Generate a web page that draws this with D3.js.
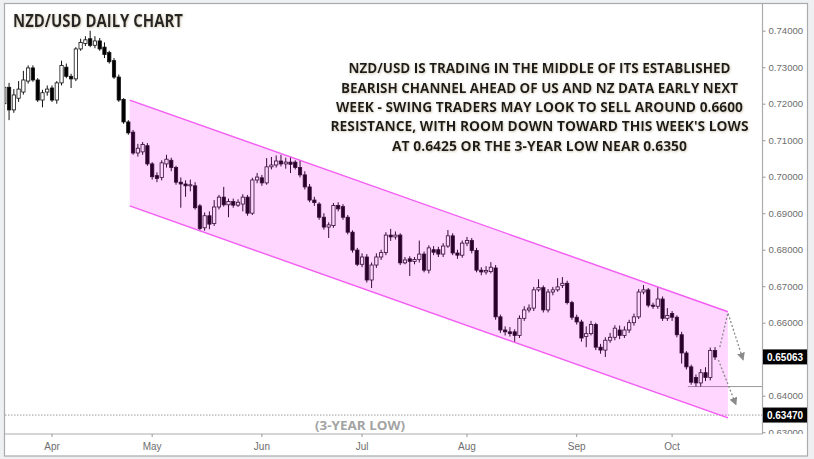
<!DOCTYPE html>
<html><head><meta charset="utf-8">
<script src="https://cdn.jsdelivr.net/npm/d3@7"></script>
<style>
html,body{margin:0;padding:0;background:#eef0f1;}
svg{display:block;}
</style></head><body>
<svg id="c" width="814" height="459"></svg>
<script>
// ---- DATA (NZD/USD daily) ----
const openP = [
.7200,.7245,.7183,.7215,.7232,.7262,.7298,.7265,.7210,.7232,
.7243,.7210,.7257,.7300,.7275,.7268,.7350,.7365,.7378,.7360,
.7372,.7355,.7340,.7318,.7273,.7212,.7150,.7122,.7065,.7068,
.7085,.7035,.7003,.6998,.7035,.7045,.7025,.6985,.6980,.6975,
.6975,.6920,.6860,.6893,.6872,.6917,.6944,.6923,.6932,.6922,
.6925,.6944,.6900,.6991,.6997,.6983,.7027,.7032,.7043,.7035,
.7040,.7040,.7025,.7005,.6972,.6936,.6925,.6889,.6862,.6866,
.6921,.6918,.6889,.6848,.6799,.6760,.6780,.6717,.6758,.6780,
.6792,.6840,.6835,.6840,.6764,.6775,.6768,.6773,.6788,.6744,
.6800,.6800,.6788,.6810,.6838,.6791,.6785,.6818,.6825,.6798,
.6744,.6739,.6740,.6750,.6616,.6580,.6575,.6575,.6565,.6612,
.6635,.6640,.6690,.6696,.6635,.6684,.6690,.6702,.6708,.6655,
.6615,.6602,.6562,.6570,.6595,.6533,.6525,.6552,.6560,.6580,
.6565,.6580,.6600,.6616,.6684,.6690,.6648,.6645,.6665,.6612,
.6625,.6615,.6567,.6517,.6479,.6450,.6435,.6463,.6450,.6524];
const highP = [
.7265,.7257,.7240,.7262,.7290,.7305,.7305,.7270,.7238,.7250,
.7250,.7262,.7318,.7310,.7282,.7355,.7378,.7385,.7400,.7385,
.7380,.7368,.7345,.7325,.7280,.7215,.7155,.7128,.7090,.7095,
.7092,.7040,.7012,.7045,.7060,.7052,.7030,.6998,.6990,.6992,
.6985,.6925,.6902,.6905,.6936,.6950,.6972,.6940,.6940,.6938,
.6952,.6950,.6997,.7010,.7005,.7051,.7054,.7058,.7060,.7052,
.7054,.7045,.7046,.7015,.6980,.6945,.6930,.6900,.6875,.6928,
.6930,.6925,.6895,.6853,.6805,.6790,.6788,.6765,.6790,.6800,
.6848,.6857,.6850,.6845,.6780,.6782,.6780,.6825,.6795,.6812,
.6810,.6808,.6818,.6854,.6845,.6800,.6825,.6835,.6832,.6805,
.6752,.6755,.6766,.6758,.6622,.6590,.6588,.6582,.6620,.6645,
.6650,.6698,.6719,.6702,.6692,.6698,.6722,.6725,.6715,.6660,
.6622,.6608,.6590,.6605,.6600,.6542,.6560,.6572,.6593,.6592,
.6590,.6608,.6625,.6692,.6703,.6695,.6655,.6698,.6672,.6640,
.6632,.6620,.6575,.6522,.6485,.6458,.6473,.6478,.6532,.6533];
const lowP = [
.7180,.7155,.7175,.7205,.7225,.7255,.7260,.7205,.7190,.7222,
.7205,.7200,.7250,.7270,.7243,.7262,.7345,.7358,.7355,.7352,
.7345,.7325,.7310,.7268,.7205,.7145,.7115,.7060,.7055,.7060,
.7030,.6992,.6985,.6990,.7025,.7015,.6978,.6915,.6945,.6960,
.6910,.6852,.6852,.6856,.6865,.6910,.6918,.6889,.6915,.6917,
.6905,.6893,.6895,.6982,.6975,.6978,.7020,.7025,.7028,.7022,
.7010,.7020,.6998,.6965,.6930,.6920,.6882,.6855,.6832,.6860,
.6905,.6882,.6842,.6792,.6755,.6752,.6710,.6695,.6750,.6772,
.6785,.6824,.6828,.6758,.6760,.6728,.6760,.6765,.6738,.6735,
.6785,.6780,.6780,.6805,.6785,.6775,.6778,.6810,.6790,.6738,
.6730,.6732,.6735,.6608,.6572,.6565,.6562,.6547,.6558,.6605,
.6628,.6632,.6685,.6628,.6628,.6675,.6685,.6695,.6650,.6608,
.6595,.6548,.6533,.6565,.6525,.6515,.6506,.6545,.6552,.6555,
.6558,.6572,.6592,.6610,.6678,.6642,.6638,.6638,.6605,.6605,
.6605,.6560,.6488,.6472,.6430,.6425,.6425,.6440,.6442,.6498];
const closeP = [
.7245,.7183,.7224,.7240,.7265,.7298,.7265,.7210,.7230,.7240,
.7210,.7257,.7305,.7275,.7268,.7350,.7368,.7375,.7360,.7372,
.7350,.7335,.7315,.7273,.7210,.7150,.7120,.7065,.7078,.7088,
.7035,.7000,.6995,.7038,.7048,.7025,.6985,.6980,.6975,.6978,
.6915,.6858,.6893,.6870,.6917,.6944,.6923,.6932,.6922,.6930,
.6944,.6900,.6991,.6999,.6983,.7027,.7032,.7043,.7035,.7040,
.7034,.7025,.7005,.6972,.6936,.6929,.6889,.6862,.6868,.6921,
.6912,.6889,.6848,.6799,.6760,.6780,.6717,.6758,.6780,.6792,
.6840,.6835,.6840,.6764,.6772,.6768,.6773,.6788,.6744,.6805,
.6793,.6788,.6810,.6838,.6791,.6785,.6818,.6825,.6798,.6744,
.6739,.6743,.6752,.6616,.6580,.6575,.6570,.6565,.6612,.6635,
.6640,.6690,.6696,.6635,.6684,.6690,.6698,.6708,.6655,.6615,
.6602,.6558,.6570,.6595,.6533,.6525,.6552,.6560,.6585,.6565,
.6580,.6600,.6616,.6684,.6690,.6648,.6645,.6665,.6612,.6620,
.6615,.6567,.6517,.6479,.6437,.6435,.6463,.6450,.6524,.6506];
const firstDay = "2018-03-19";           // first session shown
const monthNames = ["Jan","Feb","Mar","Apr","May","Jun","Jul","Aug","Sep","Oct","Nov","Dec"];
const yTicks = [0.74,0.73,0.72,0.71,0.70,0.69,0.68,0.67,0.66,0.64,0.63]; // 0.65000 sits under the price box
const lastPrice = 0.65063;
const threeYearLow = 0.6347;
const weekLow = 0.6425;
const weekLowFrom = 143.3;                   // session index where the line starts
const channelUpper = [[26.3,0.7210],[151.7,0.6630]];   // [session index, price]
const channelLower = [[26.3,0.6920],[151.7,0.6339]];
const arrowA = [[150.0,0.6533],[151.7,0.6627],[154.9,0.6498]];
const arrowB = [[149.7,0.6498],[153.4,0.6375]];
const titleText = "NZD/USD DAILY CHART";
const noteLines = [
 "NZD/USD IS TRADING IN THE MIDDLE OF ITS ESTABLISHED",
 "BEARISH CHANNEL AHEAD OF US AND NZ DATA EARLY NEXT",
 "WEEK - SWING TRADERS MAY LOOK TO SELL AROUND 0.6600",
 "RESISTANCE, WITH ROOM DOWN TOWARD THIS WEEK'S LOWS",
 "AT 0.6425 OR THE 3-YEAR LOW NEAR 0.6350"];
const noteWidths = [382,397,407,418,295];
const lowLabel = "(3-YEAR LOW)";

// ---- build sessions (weekdays) ----
const n = closeP.length;
const dates = [];
{ let d = new Date(firstDay + "T12:00:00Z");
  while (dates.length < n) { const wd = d.getUTCDay(); if (wd !== 0 && wd !== 6) dates.push(new Date(d)); d = new Date(d.getTime() + 864e5); } }
const candles = dates.map((d,i)=>({i, d, o:openP[i], h:highP[i], l:lowP[i], c:closeP[i]}));

// ---- layout ----
const P = {l:5, r:762.5, t:4, b:434};
const step = 4.77;
const svg = d3.select("#c");

const x = d3.scaleBand().domain(d3.range(n)).range([1.92, 1.92 + step*n]).padding(0);
const xi = d3.scaleLinear().domain([0, n]).range(x.range());  // fractional session index
const cx = i => xi(i + 0.5);
const y = d3.scaleLinear().domain([0.63, 0.74]).range([432.2, 30.7]);

// frame
svg.append("rect").attr("x",4.5).attr("y",3.5).attr("width",803).attr("height",452.5)
  .attr("fill","#fff").attr("stroke","#a9abad").attr("stroke-width",1.2);

const defs = svg.append("defs");
defs.append("clipPath").attr("id","plotclip").append("rect")
  .attr("x",P.l).attr("y",P.t).attr("width",P.r-P.l).attr("height",P.b-P.t);
defs.append("clipPath").attr("id","yclip").append("rect")
  .attr("x",P.r).attr("y",P.t).attr("width",46).attr("height",P.b-P.t);
defs.append("marker").attr("id","ah").attr("viewBox","0 0 10 10").attr("refX",9).attr("refY",5)
  .attr("markerWidth",8).attr("markerHeight",8).attr("orient","auto-start-reverse")
  .attr("markerUnits","userSpaceOnUse")
  .append("path").attr("d","M0,0L10,5L0,10z").attr("fill","#8a8a8a");
const f = defs.append("filter").attr("id","glow").attr("x","-5%").attr("y","-30%").attr("width","110%").attr("height","160%");
f.append("feDropShadow").attr("dx",0.6).attr("dy",0.8).attr("stdDeviation",0.9).attr("flood-color","#b7a98a").attr("flood-opacity",0.7);

const plot = svg.append("g").attr("clip-path","url(#plotclip)");

// 3-year low dotted line
plot.append("line").attr("x1",P.l).attr("x2",P.r).attr("y1",y(threeYearLow)).attr("y2",y(threeYearLow))
  .attr("stroke","#9a9a9a").attr("stroke-width",1).attr("stroke-dasharray","1.5,1.5");
// this week's low
plot.append("line").attr("x1",cx(weekLowFrom)).attr("x2",P.r).attr("y1",y(weekLow)).attr("y2",y(weekLow))
  .attr("stroke","#9a9a9a").attr("stroke-width",1);

// candles
const cg = plot.append("g");
const bw = 3.3;
cg.selectAll("line.w").data(candles).join("line").attr("class","w")
  .attr("x1",d=>x(d.i)+x.bandwidth()/2).attr("x2",d=>x(d.i)+x.bandwidth()/2)
  .attr("y1",d=>y(d.h)).attr("y2",d=>y(d.l)).attr("stroke","#111").attr("stroke-width",1);
cg.selectAll("rect.b").data(candles).join("rect").attr("class","b")
  .attr("x",d=>x(d.i)+x.bandwidth()/2-bw/2).attr("width",bw)
  .attr("y",d=>y(Math.max(d.o,d.c)))
  .attr("height",d=>Math.max(1,Math.abs(y(d.o)-y(d.c))))
  .attr("fill",d=>d.c<d.o?"#000":"#fff").attr("stroke","#111").attr("stroke-width",0.8);

// channel
const chPts = [channelUpper[0],channelUpper[1],channelLower[1],channelLower[0]];
plot.append("path").attr("d", d3.line().x(p=>cx(p[0])).y(p=>y(p[1]))(chPts)+"Z")
  .attr("fill","#ff00ff").attr("fill-opacity",0.16).attr("stroke","none");
[channelUpper, channelLower].forEach(seg=>{
  plot.append("path").attr("d", d3.line().x(p=>cx(p[0])).y(p=>y(p[1]))(seg))
    .attr("fill","none").attr("stroke","#f25cf2").attr("stroke-width",1.4);
});

// arrows
[arrowA, arrowB].forEach(seg=>{
  plot.append("path").attr("d", d3.line().x(p=>cx(p[0])).y(p=>y(p[1]))(seg))
    .attr("fill","none").attr("stroke","#8a8a8a").attr("stroke-width",1.3)
    .attr("stroke-dasharray","2,2").attr("marker-end","url(#ah)");
});

// 3-year low label
svg.append("text").attr("x",405).attr("y",430).attr("text-anchor","end")
  .attr("font-family","Open Sans, sans-serif").attr("font-weight",700).attr("font-size",13)
  .attr("fill","#a3a3a3").attr("textLength",90).attr("lengthAdjust","spacingAndGlyphs").text(lowLabel);

// axes lines
svg.append("line").attr("x1",P.r).attr("x2",P.r).attr("y1",P.t).attr("y2",P.b).attr("stroke","#a9abad").attr("stroke-width",1.2);
svg.append("line").attr("x1",P.l).attr("x2",P.r).attr("y1",P.b).attr("y2",P.b).attr("stroke","#a9abad").attr("stroke-width",1.2);

// y axis (clipped at the bottom of the plot)
const yOuter = svg.append("g").attr("clip-path","url(#yclip)");
const ya = yOuter.append("g").attr("transform",`translate(${P.r},0)`)
  .call(d3.axisRight(y).tickValues(yTicks).tickFormat(d3.format(".5f")).tickSize(3).tickPadding(3));
ya.select(".domain").remove();
ya.selectAll(".tick line").attr("stroke","#999");
ya.selectAll(".tick text").attr("fill","#6e6e6e").attr("font-family","Liberation Sans, Arial, sans-serif").attr("font-size",9.6);

// price boxes
[lastPrice, threeYearLow].forEach(v=>{
  const g = svg.append("g");
  g.append("rect").attr("x",P.r+0.5).attr("y",y(v)-7.5).attr("width",44).attr("height",15).attr("fill","#000");
  g.append("text").attr("x",P.r+22.5).attr("y",y(v)+3.6).attr("text-anchor","middle")
    .attr("font-family","Liberation Sans, Arial, sans-serif").attr("font-weight",700).attr("font-size",10)
    .attr("fill","#fff").text(d3.format(".5f")(v));
});

// x axis: first session of each month
const monthStarts = candles.filter((d,k)=>k>0 && d.d.getUTCMonth()!==candles[k-1].d.getUTCMonth()).map(d=>d.i);
const xa = svg.append("g").attr("transform",`translate(0,${P.b})`)
  .call(d3.axisBottom(x).tickValues(monthStarts).tickFormat(i=>monthNames[candles[i].d.getUTCMonth()]).tickSize(3).tickPadding(6));
xa.select(".domain").remove();
xa.selectAll(".tick line").attr("stroke","#999");
xa.selectAll(".tick text").attr("fill","#6e6e6e").attr("font-family","Liberation Sans, Arial, sans-serif").attr("font-size",10);

// title
svg.append("text").attr("x",13).attr("y",27).attr("font-family","Open Sans, sans-serif").attr("font-weight",700)
  .attr("font-size",17).attr("fill","#262626").attr("textLength",170).attr("lengthAdjust","spacingAndGlyphs")
  .attr("filter","url(#glow)").text(titleText);

// annotation
const ng = svg.append("g").attr("filter","url(#glow)");
noteLines.forEach((t,k)=>{
  ng.append("text").attr("x",539.5).attr("y",73.3+k*19.3).attr("text-anchor","middle")
    .attr("font-family","Open Sans, sans-serif").attr("font-weight",700).attr("font-size",13.5)
    .attr("fill","#1c1c1c").attr("textLength",noteWidths[k]).attr("lengthAdjust","spacingAndGlyphs").text(t);
});
</script>
</body></html>
